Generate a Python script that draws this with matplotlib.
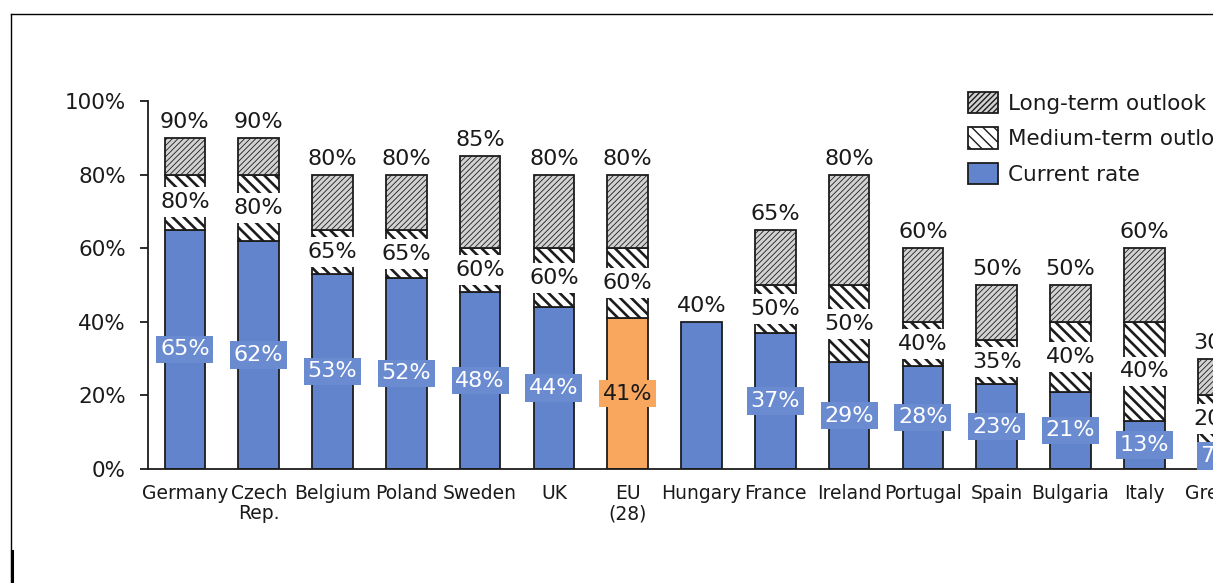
import matplotlib
matplotlib.use('Agg')
import matplotlib.pyplot as plt
from matplotlib.patches import Patch
from matplotlib.lines import Line2D

# ---------------- data ----------------
countries = ['Germany', 'Czech\nRep.', 'Belgium', 'Poland', 'Sweden', 'UK', 'EU\n(28)',
             'Hungary', 'France', 'Ireland', 'Portugal', 'Spain', 'Bulgaria', 'Italy', 'Greece']
current_rate = [65, 62, 53, 52, 48, 44, 41, 40, 37, 29, 28, 23, 21, 13, 7]
medium_term = [80, 80, 65, 65, 60, 60, 60, None, 50, 50, 40, 35, 40, 40, 20]
long_term = [90, 90, 80, 80, 85, 80, 80, None, 65, 80, 60, 50, 50, 60, 30]
highlight = 'EU\n(28)'
yticks = [0, 20, 40, 60, 80, 100]
ytick_labels = ['0%', '20%', '40%', '60%', '80%', '100%']
legend_labels = ['Long-term outlook', 'Medium-term outlook', 'Current rate']

# ---------------- style ----------------
W, H = 1213, 583
DPI = 100
BLUE = '#6284cc'
BLUE_BOX = '#6a8bd0'
ORANGE = '#f9a65e'
GRAY = '#d2d2d2'
EDGE = '#1c1c1c'
TXT = '#1a1a1a'
FS_VAL = 16
FS_TICK = 15.5
FS_LEG = 15.5
FS_CAT = 13.5

plt.rcParams['font.family'] = ['DejaVu Sans']

fig = plt.figure(figsize=(W / DPI, H / DPI), dpi=DPI)
fig.patch.set_facecolor('white')

n = len(countries)
left_px, right_px = 148, 148 + n * 73.8
bottom_px, top_px = 469, 101
ax = fig.add_axes([left_px / W, (H - bottom_px) / H,
                   (right_px - left_px) / W, (bottom_px - top_px) / H])

x = list(range(n))
bw = 0.55


def set_hlw(patches, lw):
    for p in patches:
        if hasattr(p, 'set_hatch_linewidth'):
            p.set_hatch_linewidth(lw)


cur_colors = [ORANGE if c == highlight else BLUE for c in countries]
ax.bar(x, current_rate, width=bw, color=cur_colors, edgecolor=EDGE, linewidth=1.3, zorder=2)

idx = [i for i in x if medium_term[i] is not None]
with plt.rc_context({'hatch.linewidth': 1.9, 'hatch.color': 'black'}):
    mb = ax.bar(idx, [medium_term[i] - current_rate[i] for i in idx],
                bottom=[current_rate[i] for i in idx], width=bw, color='white',
                edgecolor=EDGE, linewidth=1.3, hatch='\\\\\\', zorder=2)
set_hlw(mb, 1.9)
with plt.rc_context({'hatch.linewidth': 0.6, 'hatch.color': '#333333'}):
    lb = ax.bar(idx, [long_term[i] - medium_term[i] for i in idx],
                bottom=[medium_term[i] for i in idx], width=bw, color=GRAY,
                edgecolor=EDGE, linewidth=1.3, hatch='//////', zorder=2)
set_hlw(lb, 0.6)

# labels
for i in x:
    cur = current_rate[i]
    if medium_term[i] is None:
        ax.text(i, cur + 1.6, f'{cur}%', ha='center', va='bottom', fontsize=FS_VAL,
                color=TXT, zorder=5)
        continue
    med, lng = medium_term[i], long_term[i]
    ax.text(i, lng + 1.6, f'{lng}%', ha='center', va='bottom', fontsize=FS_VAL,
            color=TXT, zorder=5)
    ax.text(i, (cur + med) / 2, f'{med}%', ha='center', va='center', fontsize=FS_VAL,
            color=TXT, zorder=5,
            bbox=dict(boxstyle='square,pad=0.22', fc='white', ec='none'))
    is_hl = countries[i] == highlight
    ax.text(i, cur / 2, f'{cur}%', ha='center', va='center', fontsize=FS_VAL,
            color=TXT if is_hl else 'white', zorder=5,
            bbox=dict(boxstyle='square,pad=0.17', fc=ORANGE if is_hl else BLUE_BOX, ec='none'))

ax.set_xlim(-0.5, n - 0.5)
ax.set_ylim(0, 100)
ax.set_yticks(yticks)
ax.set_yticklabels(ytick_labels, fontsize=FS_TICK, color=TXT)
ax.set_xticks(x)
ax.set_xticklabels(countries, fontsize=FS_CAT, color=TXT, linespacing=1.05)
ax.tick_params(axis='x', length=0, pad=11)
ax.tick_params(axis='y', length=6, width=1.3, pad=10, direction='out', color=EDGE)
for s in ['top', 'right']:
    ax.spines[s].set_visible(False)
for s in ['left', 'bottom']:
    ax.spines[s].set_linewidth(1.3)
    ax.spines[s].set_color(EDGE)

# legend
with plt.rc_context({'hatch.linewidth': 0.6}):
    h1 = Patch(facecolor=GRAY, edgecolor=EDGE, hatch='//////', linewidth=1.3)
with plt.rc_context({'hatch.linewidth': 1.9}):
    h2 = Patch(facecolor='white', edgecolor=EDGE, hatch='\\\\\\', linewidth=1.3)
h3 = Patch(facecolor=BLUE, edgecolor=EDGE, linewidth=1.3)
set_hlw([h1], 0.6)
set_hlw([h2], 1.9)
leg = fig.legend([h1, h2, h3], legend_labels, loc='upper left',
                 bbox_to_anchor=(968 / W, 1 - 92 / H), frameon=False, fontsize=FS_LEG,
                 handlelength=1.4, handleheight=1.15, handletextpad=0.47,
                 labelspacing=0.62, borderaxespad=0, borderpad=0)
for t in leg.get_texts():
    t.set_color(TXT)

# outer frame (partly visible border of the original)
fig.add_artist(Line2D([10.5 / W, 1.0], [1 - 13.5 / H, 1 - 13.5 / H], transform=fig.transFigure,
                      color='black', lw=1.0))
fig.add_artist(Line2D([10.5 / W, 10.5 / W], [1 - 13.5 / H, 0], transform=fig.transFigure,
                      color='black', lw=1.0))
fig.add_artist(Line2D([11.5 / W, 11.5 / W], [(H - 551) / H, 0], transform=fig.transFigure,
                      color='black', lw=2.2))

fig.savefig('out.png', dpi=DPI, facecolor='white')
